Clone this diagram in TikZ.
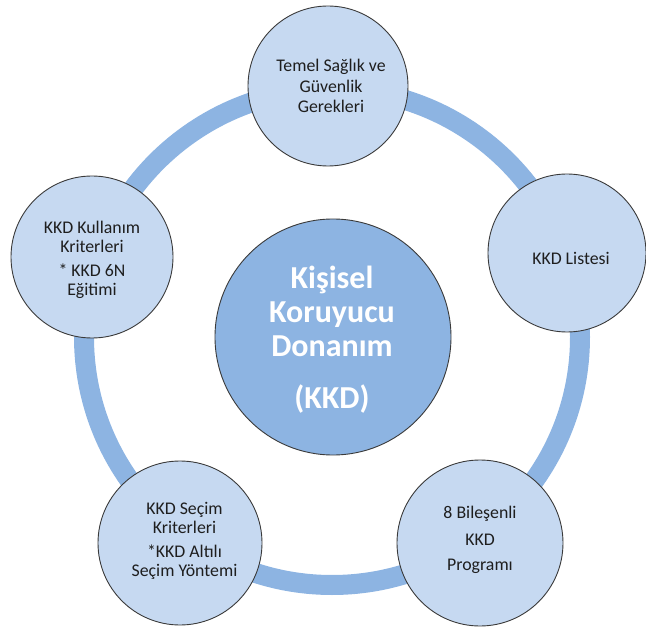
\documentclass[tikz,border=0pt]{standalone}
\usepackage{fontspec}
\setmainfont{Carlito}
\definecolor{ringblue}{HTML}{8DB4E2}
\definecolor{hubblue}{HTML}{8DB4E2}
\definecolor{leafblue}{HTML}{C6D9F1}
\definecolor{rimgray}{HTML}{3A3A3A}
\definecolor{leafink}{HTML}{1E1E1E}
\begin{document}
\begin{tikzpicture}[x=1pt,y=-1pt,
  leaf/.style={circle,draw=rimgray,line width=0.9pt,fill=leafblue,inner sep=0pt},
  hub/.style={circle,draw=rimgray,line width=0.9pt,fill=hubblue,inner sep=0pt,minimum size=236pt},
  leaftext/.style={align=center,text=leafink,inner sep=0pt},
  hubtext/.style={align=center,text=white,inner sep=0pt,
    font=\fontsize{32}{34}\selectfont\bfseries},
  ring/.style={draw=ringblue,line width=20pt}]
\useasboundingbox (0,0) rectangle (646,631);

% connecting ring behind everything
\coordinate (ringc) at (332,337);
\draw[ring] (ringc) circle[radius=248pt];

% outer circles
\node[leaf,minimum size=160pt] (top) at (328,86) {};
\node[leaf,minimum size=158pt] (right) at (567,253) {};
\node[leaf,minimum size=162pt] (left) at (92,257) {};
\node[leaf,minimum size=164pt] (botleft) at (180,543) {};
\node[leaf,minimum size=166pt] (botright) at (480,543) {};

% central circle
\node[hub] (hub) at (333,337) {};

% labels
\node[leaftext,font=\fontsize{17.8}{20.5}\selectfont] (toptext) at (331,86)
  {Temel Sağlık ve\\Güvenlik\\Gerekleri};
\node[leaftext,font=\fontsize{17.8}{20}\selectfont] (righttext) at (571,258)
  {KKD Listesi};
\node[leaftext,font=\fontsize{17.8}{19}\selectfont] (lefttext) at (92,260)
  {KKD Kullanım\\Kriterleri\\[5pt]* KKD 6N\\Eğitimi};
\node[leaftext,font=\fontsize{17.8}{19}\selectfont] (botlefttext) at (184.5,541)
  {KKD Seçim\\Kriterleri\\[5pt]*KKD Altılı\\Seçim Yöntemi};
\node[leaftext,font=\fontsize{17.8}{19}\selectfont] (botrighttext) at (480,540)
  {8 Bileşenli\\[8pt]KKD\\[6pt]Programı};
\node[hubtext] (hubtext) at (332,340)
  {Kişisel\\Koruyucu\\Donanım\\[18pt](KKD)};
\end{tikzpicture}
\end{document}
